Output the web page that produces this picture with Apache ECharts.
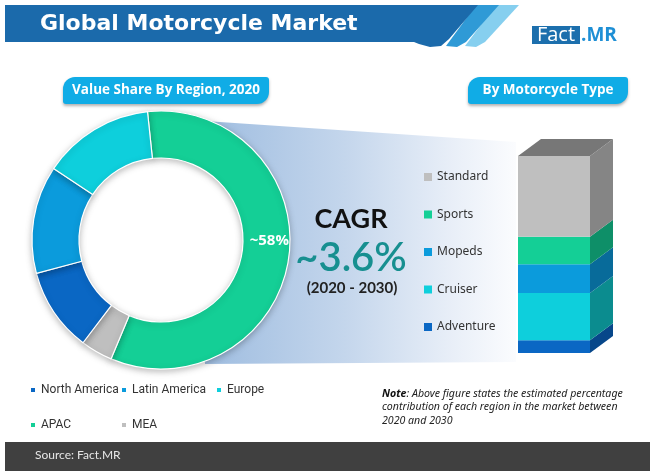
<!DOCTYPE html>
<html>
<head>
<meta charset="utf-8">
<script src="https://cdn.jsdelivr.net/npm/echarts@6/dist/echarts.min.js"></script>
<style>
html,body{margin:0;padding:0;background:#fff;}
#main{width:650px;height:471px;}
</style>
</head>
<body>
<div id="main"></div>
<script>
// ---- Data ----
const regionNames = ['APAC', 'MEA', 'North America', 'Latin America', 'Europe'];
const regionShare = [58, 4, 10.5, 13.5, 14];
const regionColors = ['#14cf96', '#bfbfbf', '#0a67c4', '#0b9bdc', '#0ecfdc'];

const typeNames = ['Adventure', 'Cruiser', 'Mopeds', 'Sports', 'Standard']; // bottom -> top
const typeShare = [6.5, 24, 14.5, 14, 41];
const typeFront = ['#0a67c4', '#0ecfdc', '#0b9bdc', '#14cf96', '#bfbfbf'];
const typeSide = ['#07478a', '#0b8c8f', '#086b9a', '#0e8f68', '#858585'];
const topFaceColor = '#777777';

const cagrLabel = 'CAGR';
const cagrValue = '~3.6%';
const cagrPeriod = '(2020 - 2030)';

const chart = echarts.init(document.getElementById('main'), null, {renderer: 'canvas'});

// cumulative stacking for the 3D column
let acc = 0;
const typeSeries = typeNames.map((name, i) => {
  const base = acc;
  acc += typeShare[i];
  const isTop = i === typeNames.length - 1;
  return {
    type: 'custom',
    name: name,
    xAxisIndex: 0,
    yAxisIndex: 0,
    clip: false,
    itemStyle: {color: typeFront[i]},
    data: [[0, base, acc]],
    renderItem: function (params, api) {
      const b = api.coord([api.value(0), api.value(1)]);
      const t = api.coord([api.value(0), api.value(2)]);
      const w = api.size([1, 0])[0];
      const x0 = b[0] - w / 2, x1 = b[0] + w / 2;
      const dx = 23, dy = -17;
      const children = [
        {type: 'rect', shape: {x: x0, y: t[1], width: w, height: b[1] - t[1]},
         style: {fill: typeFront[i]}},
        {type: 'polygon', shape: {points: [[x1, t[1]], [x1 + dx, t[1] + dy], [x1 + dx, b[1] + dy], [x1, b[1]]]},
         style: {fill: typeSide[i]}}
      ];
      if (isTop) {
        children.push({type: 'polygon',
          shape: {points: [[x0, t[1]], [x0 + dx, t[1] + dy], [x1 + dx, t[1] + dy], [x1, t[1]]]},
          style: {fill: topFaceColor}});
      }
      return {type: 'group', children: children};
    }
  };
});

const legendText = {color: '#333', fontSize: 12, fontFamily: 'Roboto', lineHeight: 14};

const option = {
  backgroundColor: '#ffffff',
  animation: false,
  grid: {left: 518, top: 156, width: 72, bottom: 118},
  xAxis: {type: 'category', data: ['Share'], show: false},
  yAxis: {type: 'value', min: 0, max: 100, show: false},
  legend: [
    {data: ['North America', 'APAC'], orient: 'vertical', left: 24, top: 378, icon: 'rect',
     itemWidth: 6, itemHeight: 6, itemGap: 21, textStyle: legendText, selectedMode: false},
    {data: ['Latin America', 'MEA'], orient: 'vertical', left: 115, top: 378, icon: 'rect',
     itemWidth: 6, itemHeight: 6, itemGap: 21, textStyle: legendText, selectedMode: false},
    {data: ['Europe'], orient: 'vertical', left: 210, top: 378, icon: 'rect',
     itemWidth: 6, itemHeight: 6, itemGap: 21, textStyle: legendText, selectedMode: false},
    {data: ['Standard', 'Sports', 'Mopeds', 'Cruiser', 'Adventure'], orient: 'vertical', left: 419, top: 165,
     icon: 'rect', itemWidth: 8, itemHeight: 8, itemGap: 23.5,
     textStyle: {color: '#333', fontSize: 12, fontFamily: 'Noto Sans', lineHeight: 14}, selectedMode: false}
  ],
  graphic: [
    // gradient funnel behind donut
    {type: 'polygon', z: 0, shape: {points: [[205, 121], [516, 142], [516, 362], [205, 364]]},
     style: {fill: new echarts.graphic.LinearGradient(0, 0, 1, 0, [
       {offset: 0, color: '#9fbde0'}, {offset: 0.45, color: '#c4d6ec'}, {offset: 0.8, color: '#e9eff8'}, {offset: 1, color: '#fbfcfe'}])}},
    // white donut hole
    {type: 'circle', z: 1, shape: {cx: 161, cy: 240, r: 83}, style: {fill: '#ffffff'}},
    // header swooshes
    {type: 'polygon', z: 1, shape: {points: [[496, 5], [519, 5], [485, 42], [476, 47], [465, 46]]}, style: {fill: '#86cfef'}},
    {type: 'polygon', z: 1, shape: {points: [[476, 5], [499, 5], [466, 42], [457, 47], [446, 46]]}, style: {fill: '#2f9ad6'}},
    {type: 'polygon', z: 2, shape: {points: [[5, 5], [478, 5], [449, 39], [441, 46], [430, 47], [419, 44], [414, 42], [5, 42]]},
     style: {fill: '#1b6aab'}},
    {type: 'text', z: 3, style: {x: 40, y: 24, text: 'Global Motorcycle Market', fill: '#ffffff',
      font: 'bold 22px "DejaVu Sans"', textVerticalAlign: 'middle'}},
    // logo
    {type: 'rect', z: 2, shape: {x: 532, y: 26, width: 48, height: 18}, style: {fill: '#1c6fad'}},
    {type: 'text', z: 3, style: {x: 556, y: 35.5, text: 'Fact', fill: '#ffffff', font: '20px "Open Sans"',
      textAlign: 'center', textVerticalAlign: 'middle'}},
    {type: 'text', z: 3, style: {x: 581, y: 35.5, text: '.MR', fill: '#1e8fd5', font: 'bold 19px "Open Sans"',
      textVerticalAlign: 'middle'}},
    // pills
    {type: 'rect', z: 2, shape: {x: 63, y: 77, width: 206, height: 27, r: [12, 3, 12, 3]},
     style: {fill: '#10ace6', shadowBlur: 3, shadowOffsetY: 2, shadowColor: 'rgba(0,0,0,0.3)'}},
    {type: 'text', z: 3, style: {x: 166, y: 90.5, text: 'Value Share By Region, 2020', fill: '#ffffff',
      font: 'bold 13.5px "Open Sans"', textAlign: 'center', textVerticalAlign: 'middle'}},
    {type: 'rect', z: 2, shape: {x: 468, y: 77, width: 160, height: 27, r: [12, 3, 12, 3]},
     style: {fill: '#10ace6', shadowBlur: 3, shadowOffsetY: 2, shadowColor: 'rgba(0,0,0,0.3)'}},
    {type: 'text', z: 3, style: {x: 548, y: 90.5, text: 'By Motorcycle Type', fill: '#ffffff',
      font: 'bold 13.5px "Open Sans"', textAlign: 'center', textVerticalAlign: 'middle'}},
    // CAGR
    {type: 'text', z: 3, style: {x: 351, y: 219, text: cagrLabel, fill: '#111111',
      font: 'bold 27px Lato', textAlign: 'center', textVerticalAlign: 'middle'}},
    {type: 'text', z: 3, style: {x: 351, y: 258, text: cagrValue, fill: '#178f90',
      font: '600 40px Lato', textAlign: 'center', textVerticalAlign: 'middle'}},
    {type: 'text', z: 3, style: {x: 352, y: 288, text: cagrPeriod, fill: '#222222',
      font: 'bold 15px Lato', textAlign: 'center', textVerticalAlign: 'middle'}},
    // note
    {type: 'text', z: 3, style: {x: 382, y: 387,
      text: '{b|Note}{i|: Above figure states the estimated percentage}\n{i|contribution of each region in the market between}\n{i|2020 and 2030}',
      rich: {
        b: {font: 'italic bold 10.6px "Noto Sans"', fill: '#111', lineHeight: 13.5},
        i: {font: 'italic 10.6px "Noto Sans"', fill: '#222', lineHeight: 13.5}
      }}},
    // footer
    {type: 'rect', z: 2, shape: {x: 5, y: 442, width: 645, height: 29}, style: {fill: '#404040'}},
    {type: 'text', z: 3, style: {x: 35, y: 455, text: 'Source: Fact.MR', fill: '#e6e6e6',
      font: '12px Lato', textVerticalAlign: 'middle'}}
  ],
  series: [
    {
      type: 'pie',
      name: 'Region',
      center: [161, 240],
      radius: [82, 129],
      startAngle: 96,
      clockwise: true,
      avoidLabelOverlap: false,
      itemStyle: {borderColor: '#ffffff', borderWidth: 1.2, shadowBlur: 6, shadowOffsetY: 2, shadowColor: 'rgba(0,0,0,0.25)'},
      label: {show: false},
      labelLine: {show: false},
      emphasis: {disabled: true},
      data: regionNames.map((n, i) => ({
        name: n, value: regionShare[i], itemStyle: {color: regionColors[i]},
        label: i === 0 ? {show: true, position: 'inside', formatter: '~{c}%', color: '#ffffff',
          fontWeight: 'bold', fontSize: 15, fontFamily: 'Open Sans', offset: [1, -15]} : {show: false}
      }))
    }
  ].concat(typeSeries)
};
chart.setOption(option);
</script>
</body>
</html>
